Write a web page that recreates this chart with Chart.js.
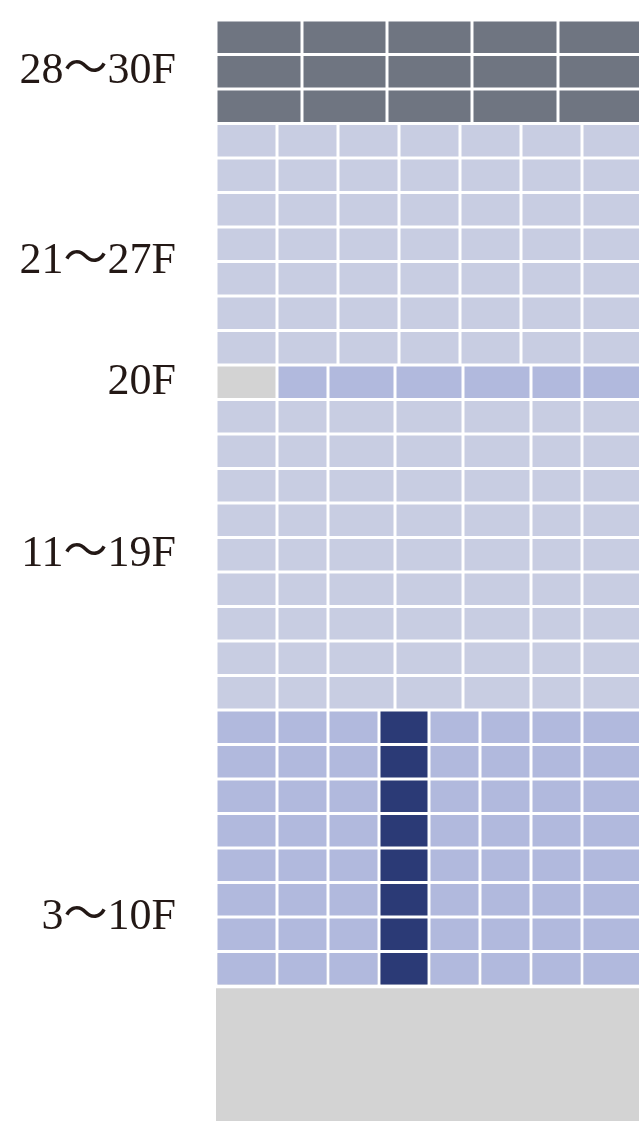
<!DOCTYPE html>
<html lang="ja">
<head>
<meta charset="utf-8">
<title>フロア構成</title>
<script src="https://cdn.jsdelivr.net/npm/chart.js@4.4.1/dist/chart.umd.min.js"></script>
<style>
  html, body { margin: 0; padding: 0; background: #fff; }
  canvas { display: block; }
</style>
</head>
<body>
<canvas id="floorChart" width="639" height="1121"></canvas>
<script>
// -- floors, top to bottom
var floorsTop = ['30F', '29F', '28F'];
var floorsUpper = ['27F', '26F', '25F', '24F', '23F', '22F', '21F'];
var floors20 = ['20F'];
var floorsMiddle = ['19F', '18F', '17F', '16F', '15F', '14F', '13F', '12F', '11F'];
var floorsLower = ['10F', '9F', '8F', '7F', '6F', '5F', '4F', '3F'];
var floorsGround = ['2F', '1F'];

// -- width of each unit, left to right (the building runs on past the right edge)
var widthsTop = [86, 85, 85, 86, 86];
var widthsUpper = [61, 61, 61, 61, 61, 61, 61];
var widthsMiddle = [61, 51, 67, 68, 68, 51, 61];
var widthsLower = [61, 51, 51, 50, 51, 51, 51, 61];
var widthsGround = [424, 424];

// -- floor labels on the left
var groupLabels = {
  '29F': '28〜30F',
  '24F': ['', '21〜27F'],
  '20F': '20F',
  '15F': '11〜19F',
  '5F': ['', '3〜10F']
};

var floors = [].concat(floorsTop, floorsUpper, floors20, floorsMiddle, floorsLower, floorsGround);

function rowWidths(floor) {
  if (floorsTop.indexOf(floor) >= 0) return widthsTop;
  if (floorsUpper.indexOf(floor) >= 0) return widthsUpper;
  if (floors20.indexOf(floor) >= 0 || floorsMiddle.indexOf(floor) >= 0) return widthsMiddle;
  if (floorsLower.indexOf(floor) >= 0) return widthsLower;
  return [];
}

function cellColor(floor, col) {
  if (floorsTop.indexOf(floor) >= 0) return '#6f7581';
  if (floors20.indexOf(floor) >= 0) return col === 0 ? '#d3d3d3' : '#b1b9dd';
  if (floorsLower.indexOf(floor) >= 0) return col === 3 ? '#2b3a76' : '#b1b9dd';
  return '#c8cde2';
}

function groundData(floor) {
  return floors.map(function (f) {
    return f === floor ? widthsGround[floorsGround.indexOf(floor)] : null;
  });
}

var datasets = [];
for (var c = 0; c < 8; c++) {
  (function (col) {
    datasets.push({
      label: 'unit ' + (col + 1),
      data: floors.map(function (f) {
        var w = rowWidths(f)[col];
        return w === undefined ? null : w;
      }),
      backgroundColor: function (ctx) { return cellColor(floors[ctx.dataIndex], col); },
      borderColor: '#ffffff',
      borderWidth: 1.5,
      borderSkipped: false,
      barPercentage: 1,
      order: 0
    });
  })(c);
}

// -- lobby floors: 2F on top with a white seam, 1F taller and drawn underneath
datasets.push({
  label: '2F',
  data: groundData('2F'),
  backgroundColor: '#d3d3d3',
  borderColor: '#ffffff',
  borderWidth: { top: 2.5, right: 0, bottom: 0, left: 0 },
  borderSkipped: false,
  barPercentage: 1,
  order: 0
});
datasets.push({
  label: '1F',
  data: groundData('1F'),
  backgroundColor: '#d3d3d3',
  borderWidth: 0,
  barPercentage: 4.9,
  clip: false,
  order: 1
});

var ctx = document.getElementById('floorChart');
var floorChart = new Chart(ctx, {
  type: 'bar',
  data: { labels: floors, datasets: datasets },
  options: {
    indexAxis: 'y',
    responsive: false,
    animation: false,
    layout: { padding: { top: 20, bottom: 66, left: 0, right: 0 } },
    datasets: { bar: { categoryPercentage: 1, inflateAmount: 0 } },
    plugins: { legend: { display: false }, tooltip: { enabled: false } },
    scales: {
      x: { stacked: true, min: 0, max: 423, display: false },
      y: {
        stacked: true,
        grid: { display: false, drawTicks: false },
        border: { display: false },
        afterFit: function (scale) {
          scale.width = 216;
          scale.paddingTop = 0;
          scale.paddingBottom = 0;
        },
        ticks: {
          autoSkip: false,
          padding: 40,
          color: '#231815',
          font: { family: "'Liberation Serif', 'Noto Sans CJK JP', serif", size: 44, lineHeight: 0.8 },
          callback: function (value) {
            var f = this.getLabelForValue(value);
            return groupLabels[f] || '';
          }
        }
      }
    }
  }
});
</script>
</body>
</html>
